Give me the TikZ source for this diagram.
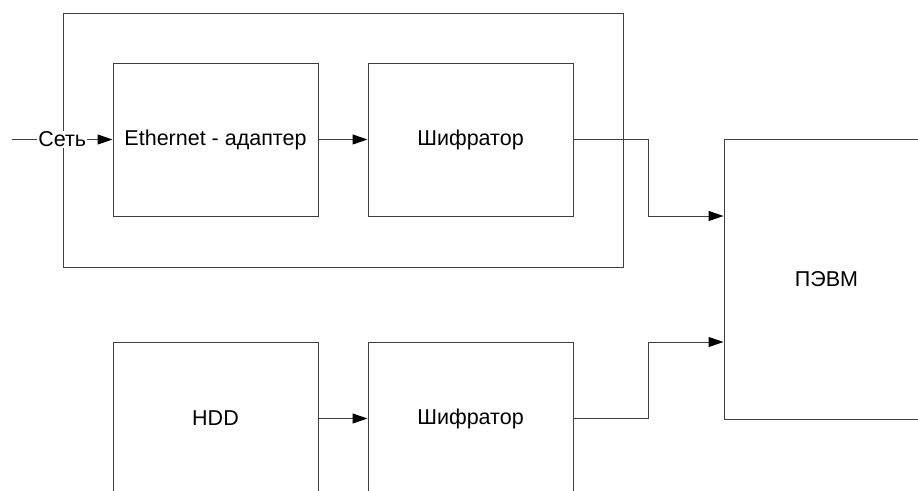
\documentclass[tikz,border=0pt]{standalone}
\usepackage{fontspec}
\setmainfont{Liberation Sans}
\usetikzlibrary{arrows.meta}
\begin{document}
\begin{tikzpicture}[x=1pt,y=-1pt,
  font=\fontsize{21.5}{25}\selectfont,
  line/.style={draw=black!75, line width=1pt},
  blockbox/.style={line, minimum width=205pt, minimum height=153pt, inner sep=0pt, anchor=center},
  arr/.style={line, -{Triangle[length=15pt,width=10pt,black]}, line join=miter}]
  \useasboundingbox (0,0) rectangle (918,490);
  \clip (0,0) rectangle (918,490);

  % enclosing frame of the network part
  \draw[line] (63,13) rectangle (623,267);

  % blocks
  \node[blockbox] (eth)  at (215.5,139.5) {Ethernet - адаптер};
  \node[blockbox] (enc1) at (470.5,139.5) {Шифратор};
  \node[blockbox] (hdd)  at (215.5,418.5) {HDD};
  \node[blockbox] (enc2) at (470.5,418.5) {Шифратор};
  \node[line, minimum width=205pt, minimum height=280pt, inner sep=0pt] (pc) at (826.5,279) {ПЭВМ};

  % connectors
  \coordinate (src) at (12,139.5);
  \draw[arr] (src) -- node[fill=white, inner sep=1pt] {Сеть} (eth.west);
  \draw[arr] (eth.east) -- (enc1.west);
  \draw[arr] (hdd.east) -- (enc2.west);
  \draw[arr] (enc1.east) -- (648,139.5) -- (648,216) -- (pc.west |- 0,216);
  \draw[arr] (enc2.east) -- (648,418.5) -- (648,342) -- (pc.west |- 0,342);
\end{tikzpicture}
\end{document}
